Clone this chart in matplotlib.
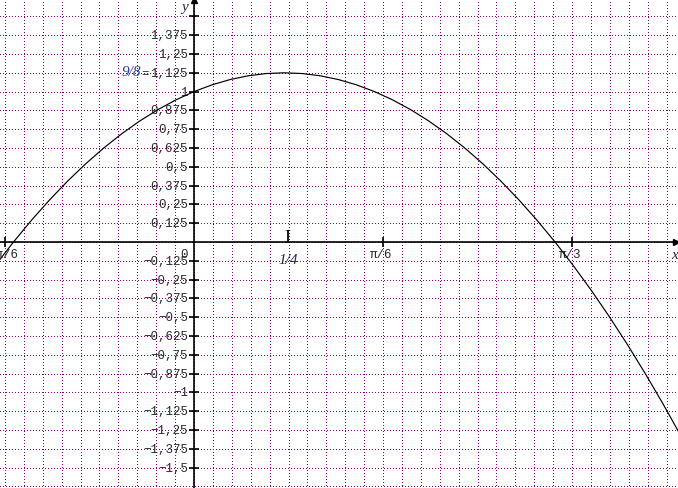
import numpy as np
import matplotlib.pyplot as plt
from matplotlib.transforms import offset_copy

# curve values
x_vals = [-0.55, -0.5, -0.45, -0.4, -0.35, -0.3, -0.25, -0.2, -0.15, -0.1, -0.05,
          0.0, 0.05, 0.1, 0.15, 0.2, 0.25, 0.3, 0.35, 0.4, 0.45, 0.5, 0.55, 0.6,
          0.65, 0.7, 0.75, 0.8, 0.85, 0.9, 0.95, 1.0, 1.05, 1.1, 1.15, 1.2, 1.25,
          1.3, 1.35]
y_vals = [-0.155, 0.0, 0.145, 0.28, 0.405, 0.52, 0.625, 0.72, 0.805, 0.88, 0.945,
          1.0, 1.045, 1.08, 1.105, 1.12, 1.125, 1.12, 1.105, 1.08, 1.045, 1.0, 0.945,
          0.88, 0.805, 0.72, 0.625, 0.52, 0.405, 0.28, 0.145, 0.0, -0.155, -0.32,
          -0.495, -0.68, -0.875, -1.08, -1.295]

# y axis ticks and labels
y_ticks = [1.5, 1.375, 1.25, 1.125, 1.0, 0.875, 0.75, 0.625, 0.5, 0.375, 0.25, 0.125,
           -0.125, -0.25, -0.375, -0.5, -0.625, -0.75, -0.875, -1.0, -1.125, -1.25,
           -1.375, -1.5]
y_labels = ["", "1,375", "1,25", "1,125", "1", "0,875", "0,75", "0,625", "0,5",
            "0,375", "0,25", "0,125", "−0,125", "−0,25", "−0,375", "−0,5", "−0,625",
            "−0,75", "−0,875", "−1", "−1,125", "−1,25", "−1,375", "−1,5"]

# x axis ticks and labels
x_ticks = [-np.pi / 6, np.pi / 6, np.pi / 3]
x_labels = ["−π/6", "π/6", "π/3"]

x_max = 0.25
y_max = 1.125

mono = ["Liberation Mono", "DejaVu Sans Mono"]
serif = ["Liberation Serif", "DejaVu Serif"]
txt_col = "#2b2b2b"
grid_col = "#800080"

fig = plt.figure(figsize=(6.78, 4.89), dpi=100)
ax = fig.add_axes([0, 0, 1, 1])
ax.set_xlim(-0.5374, 1.3407)
ax.set_ylim(-1.636, 1.6157)
for s in ax.spines.values():
    s.set_visible(False)
ax.set_xticks([])
ax.set_yticks([])

# dotted grid: pi/60 horizontally, 0.125 vertically
for k in range(-10, 26):
    ax.axvline(k * np.pi / 60, color=grid_col, lw=0.72, ls=(0, (0.7, 2.3)),
               antialiased=False, zorder=1)
for k in range(-13, 13):
    ax.axhline(k * 0.125, color=grid_col, lw=0.72, ls=(0, (0.7, 2.3)),
               antialiased=False, zorder=1)

# axes lines with arrows
ax.axhline(0, color="black", lw=1.2, zorder=2)
ax.axvline(0, color="black", lw=1.2, zorder=2)
ax.plot([1.336], [0], marker=">", color="black", ms=4, clip_on=False, zorder=3)
ax.plot([0], [1.607], marker="^", color="black", ms=4, clip_on=False, zorder=3)

def shifted(dx, dy):
    return offset_copy(ax.transData, fig=fig, x=dx, y=dy, units="dots")

# y ticks
for v, lab in zip(y_ticks, y_labels):
    ax.plot([0], [v], marker="_", color="black", ms=7, mew=1.2, zorder=3)
    if lab:
        ax.text(0, v, lab, transform=shifted(-6, 0), ha="right", va="center",
                family=mono, fontsize=9, color=txt_col)
ax.text(0, y_max, "=", transform=shifted(-45, 0), ha="right", va="center",
        family=mono, fontsize=9, color=txt_col)
ax.text(0, y_max, "9/8", transform=shifted(-53, 1), ha="right", va="center",
        family=serif, style="italic", fontsize=11, color="#2c3c9c")
ax.text(0, 0, "0", transform=shifted(-6, -12), ha="right", va="center",
        family=mono, fontsize=9, color=txt_col)

# x ticks
for v, lab in zip(x_ticks, x_labels):
    ax.plot([v], [0], marker="|", color="black", ms=7, mew=1.2, zorder=3)
    ax.text(v, 0, lab, transform=shifted(-2, -12), ha="center", va="center",
            family=mono, fontsize=9, color=txt_col)
ax.text(x_max, 0, "I", transform=shifted(3, 4), ha="center", va="center",
        family=serif, fontsize=13, color="black")
ax.text(x_max, 0, "1/4", transform=shifted(4, -18), ha="center", va="center",
        family=serif, style="italic", fontsize=11, color="#22284a")

# axis names
ax.text(0, 1.6157, "y", transform=shifted(-9, -8), ha="center", va="center",
        family=serif, style="italic", fontsize=11, color="#22284a")
ax.text(1.3407, 0, "x", transform=shifted(-3, -13), ha="center", va="center",
        family=serif, style="italic", fontsize=11, color="#22284a")

# the curve
ax.plot(x_vals, y_vals, color="black", lw=0.85, zorder=4)

fig.savefig("out.png", dpi=100)
